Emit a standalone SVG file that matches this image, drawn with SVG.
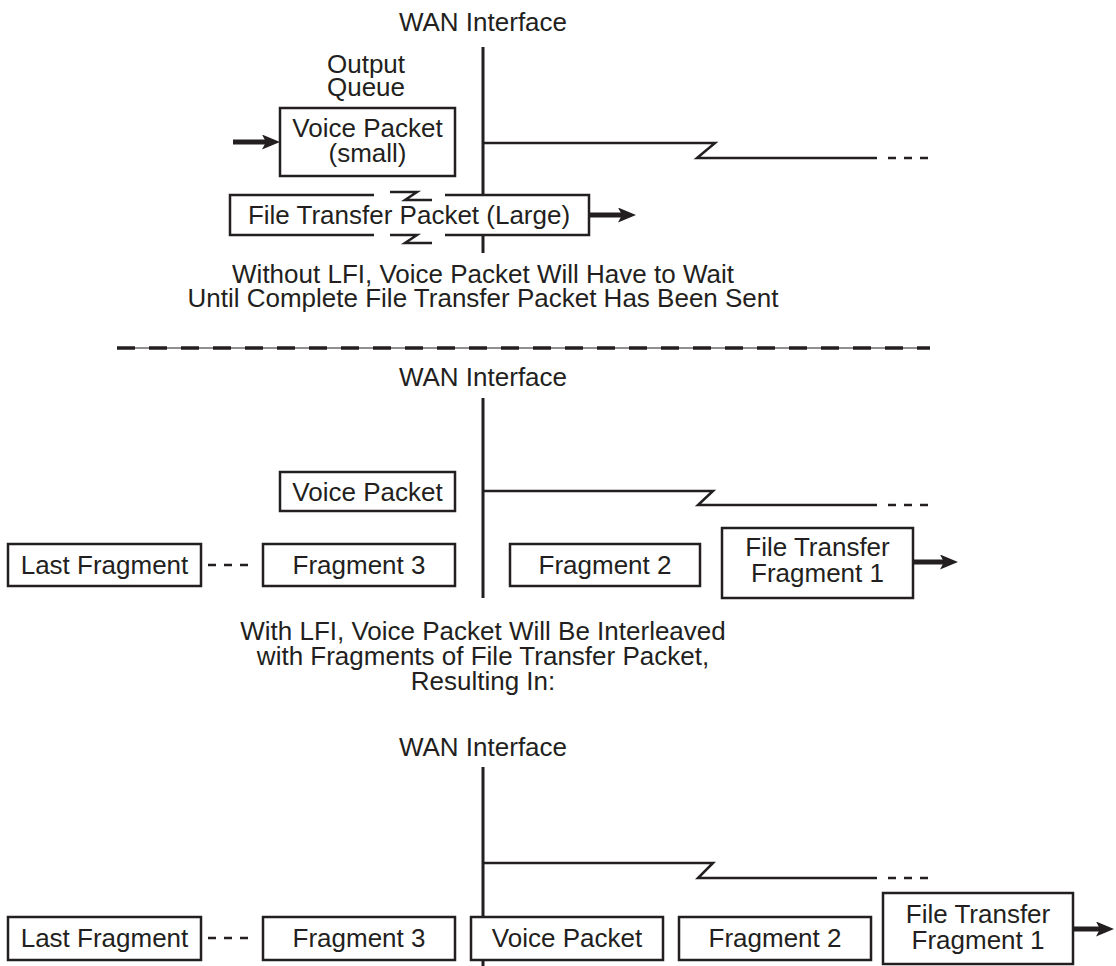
<svg xmlns="http://www.w3.org/2000/svg" width="1116" height="966" viewBox="0 0 1116 966">
<style>
text{font-family:"Liberation Sans",Arial,Helvetica,sans-serif;font-size:26px;fill:#231f20;text-anchor:middle}
.box{fill:#fff;stroke:#231f20;stroke-width:2.5}
.wire{fill:none;stroke:#231f20;stroke-width:2.5}
.vline{fill:none;stroke:#231f20;stroke-width:3}
.dots{fill:none;stroke:#231f20;stroke-width:2.5;stroke-dasharray:8 8}
.arrow{fill:none;stroke:#231f20;stroke-width:5;marker-end:url(#ah)}
</style>
<defs>
<marker id="ah" markerUnits="userSpaceOnUse" markerWidth="18" markerHeight="15" refX="10" refY="7.5" orient="auto">
<path d="M0,0 L18,7.5 L0,15 L4,7.5 Z" fill="#231f20"/>
</marker>
</defs>

<g id="connectors">
<!-- section 1 -->
<line class="vline" x1="483" y1="47" x2="483" y2="253"/>
<polyline class="wire" points="483,143 715,143 697,158 877,158"/>
<line class="dots" x1="888" y1="158" x2="930" y2="158"/>
<line class="arrow" x1="233" y1="142" x2="272" y2="142"/>
<line class="arrow" x1="589" y1="215" x2="628" y2="215"/>
<!-- separator -->
<line x1="117" y1="348" x2="930" y2="348" stroke="#231f20" stroke-width="1"/>
<line x1="117" y1="348" x2="930" y2="348" stroke="#231f20" stroke-width="3.5" stroke-dasharray="18 14"/>
<!-- section 2 -->
<line class="vline" x1="483" y1="398" x2="483" y2="598"/>
<polyline class="wire" points="483,491 713,491 698,505 877,505"/>
<line class="dots" x1="888" y1="505" x2="930" y2="505"/>
<line class="dots" x1="208" y1="565" x2="250" y2="565"/>
<line class="arrow" x1="913" y1="562" x2="950" y2="562"/>
<!-- section 3 -->
<line class="vline" x1="483" y1="767" x2="483" y2="966"/>
<polyline class="wire" points="483,863 713,863 698,878 877,878"/>
<line class="dots" x1="888" y1="878" x2="930" y2="878"/>
<line class="dots" x1="208" y1="938" x2="250" y2="938"/>
<line class="arrow" x1="1073" y1="929" x2="1106" y2="929"/>
</g>

<g id="labels">
<text x="483" y="31">WAN Interface</text>
<text x="366" y="73">Output</text>
<text x="366" y="96">Queue</text>
<text x="483" y="283">Without LFI, Voice Packet Will Have to Wait</text>
<text x="483" y="307">Until Complete File Transfer Packet Has Been Sent</text>
<text x="483" y="386">WAN Interface</text>
<text x="483" y="640">With LFI, Voice Packet Will Be Interleaved</text>
<text x="483" y="665">with Fragments of File Transfer Packet,</text>
<text x="483" y="690">Resulting In:</text>
<text x="483" y="756">WAN Interface</text>
</g>

<g id="voice-small">
<rect class="box" x="280" y="108" width="175" height="68"/>
<text x="367.5" y="137">Voice Packet</text>
<text x="367.5" y="162">(small)</text>
</g>

<g id="file-transfer-large">
<rect x="230" y="195" width="359" height="40" fill="#fff"/>
<path class="wire" d="M374,195 H230 V235 H374 M445,195 H589 V235 H445"/>
<path class="wire" d="M390,192 H417 L405,200 H432"/>
<path class="wire" d="M390,235 H417 L405,243 H432"/>
<text x="409" y="224">File Transfer Packet (Large)</text>
</g>

<g id="voice-2">
<rect class="box" x="280" y="472" width="175" height="39"/>
<text x="367.5" y="501">Voice Packet</text>
</g>
<g id="last-fragment-2">
<rect class="box" x="8" y="544" width="193" height="42"/>
<text x="104.5" y="574">Last Fragment</text>
</g>
<g id="fragment3-2">
<rect class="box" x="263" y="544" width="192" height="42"/>
<text x="359" y="574">Fragment 3</text>
</g>
<g id="fragment2-2">
<rect class="box" x="510" y="544" width="190" height="42"/>
<text x="605" y="574">Fragment 2</text>
</g>
<g id="fragment1-2">
<rect class="box" x="722" y="528" width="191" height="70"/>
<text x="817.5" y="556">File Transfer</text>
<text x="817.5" y="582">Fragment 1</text>
</g>

<g id="last-fragment-3">
<rect class="box" x="8" y="917" width="193" height="43"/>
<text x="104.5" y="947">Last Fragment</text>
</g>
<g id="fragment3-3">
<rect class="box" x="263" y="917" width="192" height="43"/>
<text x="359" y="947">Fragment 3</text>
</g>
<g id="voice-3">
<rect class="box" x="471" y="917" width="192" height="43"/>
<text x="567" y="947">Voice Packet</text>
</g>
<g id="fragment2-3">
<rect class="box" x="679" y="917" width="192" height="43"/>
<text x="775" y="947">Fragment 2</text>
</g>
<g id="fragment1-3">
<rect class="box" x="883" y="893" width="190" height="71"/>
<text x="978" y="923">File Transfer</text>
<text x="978" y="949">Fragment 1</text>
</g>
</svg>
